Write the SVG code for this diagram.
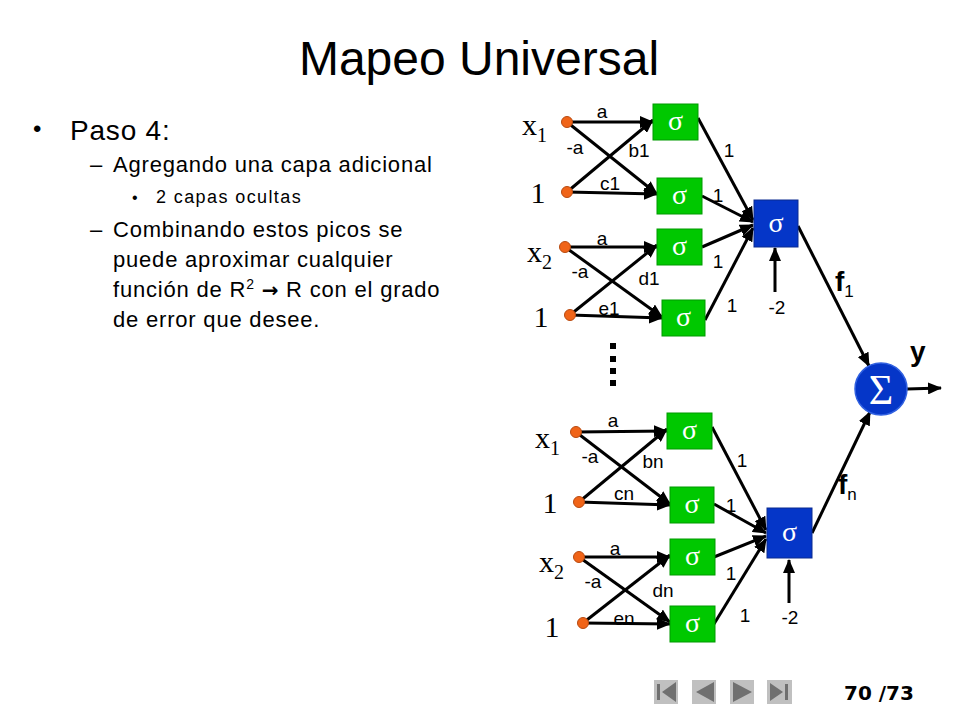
<svg xmlns="http://www.w3.org/2000/svg" width="960" height="720" viewBox="0 0 960 720">
<style>
.sans{font-family:"Liberation Sans",Arial,sans-serif;fill:#000}
.serif{font-family:"Liberation Serif","Times New Roman",serif;fill:#000}
.body{font-size:22px;letter-spacing:0.8px}
.lbl{font-family:"Liberation Sans",Arial,sans-serif;font-size:19px;fill:#000}
.in{font-family:"Liberation Serif","Times New Roman",serif;font-size:30px;fill:#000}
.sub{font-size:20px}
.e{stroke:#000;stroke-width:3;fill:none;marker-end:url(#ah)}
.g{fill:#00c800;stroke:#009a00;stroke-width:1}
.b{fill:#0536c8;stroke:#0a2a90;stroke-width:1}
.sig{font-family:"Liberation Serif","Times New Roman",serif;font-size:28px;fill:#fff;text-anchor:middle}
.big{font-size:42px}
.dot{fill:#f06418;stroke:#b84a10;stroke-width:1}
.nav{fill:#c0c0c0}
.navf{fill:#707070}
</style>
<defs>
<marker id="ah" markerUnits="userSpaceOnUse" markerWidth="14" markerHeight="12" refX="13" refY="6" orient="auto">
<path d="M0,0 L14,6 L0,12 z" fill="#000"/>
</marker>
</defs>
<rect width="960" height="720" fill="#fff"/>

<text class="sans" x="479" y="75" font-size="48" text-anchor="middle">Mapeo Universal</text>

<g id="texto">
<text class="sans" x="33" y="137" font-size="24">•</text>
<text class="sans" x="70" y="140" font-size="28" letter-spacing="0.8">Paso 4:</text>
<text class="sans body" x="90" y="172">–</text>
<text class="sans body" x="113" y="172">Agregando una capa adicional</text>
<text class="sans" x="132" y="203" font-size="16">•</text>
<text class="sans" x="156" y="203" font-size="18" letter-spacing="1.4">2 capas ocultas</text>
<text class="sans body" x="90" y="237">–</text>
<text class="sans body" x="113" y="237">Combinando estos picos se</text>
<text class="sans body" x="113" y="267">puede aproximar cualquier</text>
<text class="sans body" x="113" y="297">función de R<tspan font-size="14" dy="-8">2</tspan><tspan dy="8"> </tspan><tspan font-family="'DejaVu Sans',sans-serif" font-weight="bold" font-size="20">→</tspan> R con el grado</text>
<text class="sans body" x="113" y="327">de error que desee.</text>
</g>

<g id="connectors">
<line class="e" x1="567" y1="122" x2="653" y2="122"/>
<line class="e" x1="567" y1="122" x2="657" y2="194"/>
<line class="e" x1="567" y1="192" x2="657" y2="194"/>
<line class="e" x1="567" y1="192" x2="653" y2="120"/>
<line class="e" x1="565" y1="247" x2="657" y2="247"/>
<line class="e" x1="565" y1="247" x2="662" y2="317"/>
<line class="e" x1="570" y1="315" x2="662" y2="318"/>
<line class="e" x1="570" y1="315" x2="657" y2="245"/>
<line class="e" x1="698" y1="118" x2="753" y2="220"/>
<line class="e" x1="702" y1="196" x2="753" y2="222"/>
<line class="e" x1="702" y1="247" x2="753" y2="225"/>
<line class="e" x1="705" y1="320" x2="753" y2="228"/>
<line class="e" x1="775" y1="292" x2="775" y2="248"/>
<line class="e" x1="798" y1="226" x2="869" y2="366"/>
<line class="e" x1="576" y1="432" x2="667" y2="431"/>
<line class="e" x1="576" y1="432" x2="670" y2="504"/>
<line class="e" x1="579" y1="502" x2="670" y2="505"/>
<line class="e" x1="579" y1="502" x2="667" y2="429"/>
<line class="e" x1="579" y1="557" x2="670" y2="557"/>
<line class="e" x1="579" y1="557" x2="670" y2="622"/>
<line class="e" x1="583" y1="623" x2="670" y2="624"/>
<line class="e" x1="583" y1="623" x2="670" y2="555"/>
<line class="e" x1="712" y1="427" x2="766" y2="530"/>
<line class="e" x1="714" y1="504" x2="766" y2="533"/>
<line class="e" x1="714" y1="557" x2="766" y2="536"/>
<line class="e" x1="714" y1="624" x2="766" y2="539"/>
<line class="e" x1="789" y1="603" x2="789" y2="560"/>
<line class="e" x1="812" y1="533" x2="870" y2="412"/>
<line class="e" x1="907" y1="389" x2="941" y2="388"/>
</g>

<g id="labels">
<text class="lbl" x="602" y="118" text-anchor="middle">a</text>
<text class="lbl" x="575" y="154" text-anchor="middle">-a</text>
<text class="lbl" x="639" y="157" text-anchor="middle">b1</text>
<text class="lbl" x="610" y="190" text-anchor="middle">c1</text>
<text class="lbl" x="602" y="245" text-anchor="middle">a</text>
<text class="lbl" x="580" y="278" text-anchor="middle">-a</text>
<text class="lbl" x="649" y="285" text-anchor="middle">d1</text>
<text class="lbl" x="609" y="315" text-anchor="middle">e1</text>
<text class="lbl" x="729" y="157" text-anchor="middle">1</text>
<text class="lbl" x="718" y="202" text-anchor="middle">1</text>
<text class="lbl" x="718" y="268" text-anchor="middle">1</text>
<text class="lbl" x="732" y="312" text-anchor="middle">1</text>
<text class="lbl" x="777" y="314" text-anchor="middle" font-size="20">-2</text>
<text class="lbl" x="613" y="427" text-anchor="middle">a</text>
<text class="lbl" x="590" y="463" text-anchor="middle">-a</text>
<text class="lbl" x="653" y="468" text-anchor="middle">bn</text>
<text class="lbl" x="624" y="500" text-anchor="middle">cn</text>
<text class="lbl" x="615" y="555" text-anchor="middle">a</text>
<text class="lbl" x="593" y="588" text-anchor="middle">-a</text>
<text class="lbl" x="663" y="597" text-anchor="middle">dn</text>
<text class="lbl" x="624" y="625" text-anchor="middle">en</text>
<text class="lbl" x="742" y="467" text-anchor="middle">1</text>
<text class="lbl" x="731" y="512" text-anchor="middle">1</text>
<text class="lbl" x="731" y="580" text-anchor="middle">1</text>
<text class="lbl" x="745" y="622" text-anchor="middle">1</text>
<text class="lbl" x="790" y="624" text-anchor="middle">-2</text>
<text class="sans" x="835" y="291" font-size="28" font-weight="bold">f<tspan font-size="17" font-weight="normal" dy="6">1</tspan></text>
<text class="sans" x="838" y="494" font-size="28" font-weight="bold">f<tspan font-size="17" font-weight="normal" dy="6">n</tspan></text>
<text class="sans" x="910" y="361" font-size="28" font-weight="bold">y</text>
</g>

<g id="inputs">
<text class="in" x="522" y="135">x<tspan class="sub" dy="7">1</tspan></text>
<text class="in" x="538" y="203" text-anchor="middle">1</text>
<text class="in" x="527" y="262">x<tspan class="sub" dy="7">2</tspan></text>
<text class="in" x="541" y="327" text-anchor="middle">1</text>
<text class="in" x="535" y="448">x<tspan class="sub" dy="7">1</tspan></text>
<text class="in" x="550" y="513" text-anchor="middle">1</text>
<text class="in" x="539" y="572">x<tspan class="sub" dy="7">2</tspan></text>
<text class="in" x="552" y="637" text-anchor="middle">1</text>
<circle class="dot" cx="567" cy="122" r="5.5"/>
<circle class="dot" cx="567" cy="192" r="5.5"/>
<circle class="dot" cx="565" cy="247" r="5.5"/>
<circle class="dot" cx="570" cy="315" r="5.5"/>
<circle class="dot" cx="576" cy="432" r="5.5"/>
<circle class="dot" cx="579" cy="502" r="5.5"/>
<circle class="dot" cx="579" cy="557" r="5.5"/>
<circle class="dot" cx="583" cy="623" r="5.5"/>
</g>

<g id="h1"><rect class="g" x="653" y="104" width="45" height="36"/><text class="sig" x="675.5" y="130">σ</text></g>
<g id="h2"><rect class="g" x="657" y="178" width="45" height="36"/><text class="sig" x="679.5" y="204">σ</text></g>
<g id="h3"><rect class="g" x="657" y="229" width="45" height="36"/><text class="sig" x="679.5" y="255">σ</text></g>
<g id="h4"><rect class="g" x="662" y="300" width="43" height="36"/><text class="sig" x="683.5" y="326">σ</text></g>
<g id="h5"><rect class="g" x="667" y="413" width="45" height="36"/><text class="sig" x="689.5" y="439">σ</text></g>
<g id="h6"><rect class="g" x="670" y="487" width="44" height="36"/><text class="sig" x="692" y="513">σ</text></g>
<g id="h7"><rect class="g" x="670" y="539" width="45" height="36"/><text class="sig" x="692.5" y="565">σ</text></g>
<g id="h8"><rect class="g" x="670" y="606" width="45" height="36"/><text class="sig" x="692.5" y="632">σ</text></g>
<g id="o1"><rect class="b" x="754" y="200" width="44" height="47"/><text class="sig" x="776" y="232">σ</text></g>
<g id="on"><rect class="b" x="767" y="508" width="45" height="50"/><text class="sig" x="789.5" y="541">σ</text></g>
<g id="sum"><circle cx="881" cy="389" r="26" fill="#0536c8" stroke="#3060e0" stroke-width="1.5"/><text class="sig big" x="881" y="404">Σ</text></g>

<g id="dots" fill="#000">
<rect x="610" y="343" width="6" height="6"/>
<rect x="610" y="356" width="6" height="6"/>
<rect x="610" y="368" width="6" height="6"/>
<rect x="610" y="380" width="6" height="6"/>
</g>

<g id="nav">
<rect class="nav" x="654" y="680" width="24" height="24"/>
<rect class="navf" x="657" y="684" width="3" height="16"/>
<path class="navf" d="M662,692 L676,682 L676,702 z"/>
<rect class="nav" x="692" y="680" width="24" height="24"/>
<path class="navf" d="M696,692 L714,682 L714,702 z"/>
<rect class="nav" x="730" y="680" width="24" height="24"/>
<path class="navf" d="M733,682 L752,692 L733,702 z"/>
<rect class="nav" x="767" y="680" width="25" height="24"/>
<path class="navf" d="M770,683 L783,692 L770,701 z"/>
<rect class="navf" x="785" y="684" width="3" height="16"/>
<text x="844" y="700" font-family="'DejaVu Sans',Verdana,sans-serif" font-size="20" font-weight="bold" fill="#000">70 /73</text>
</g>
</svg>
